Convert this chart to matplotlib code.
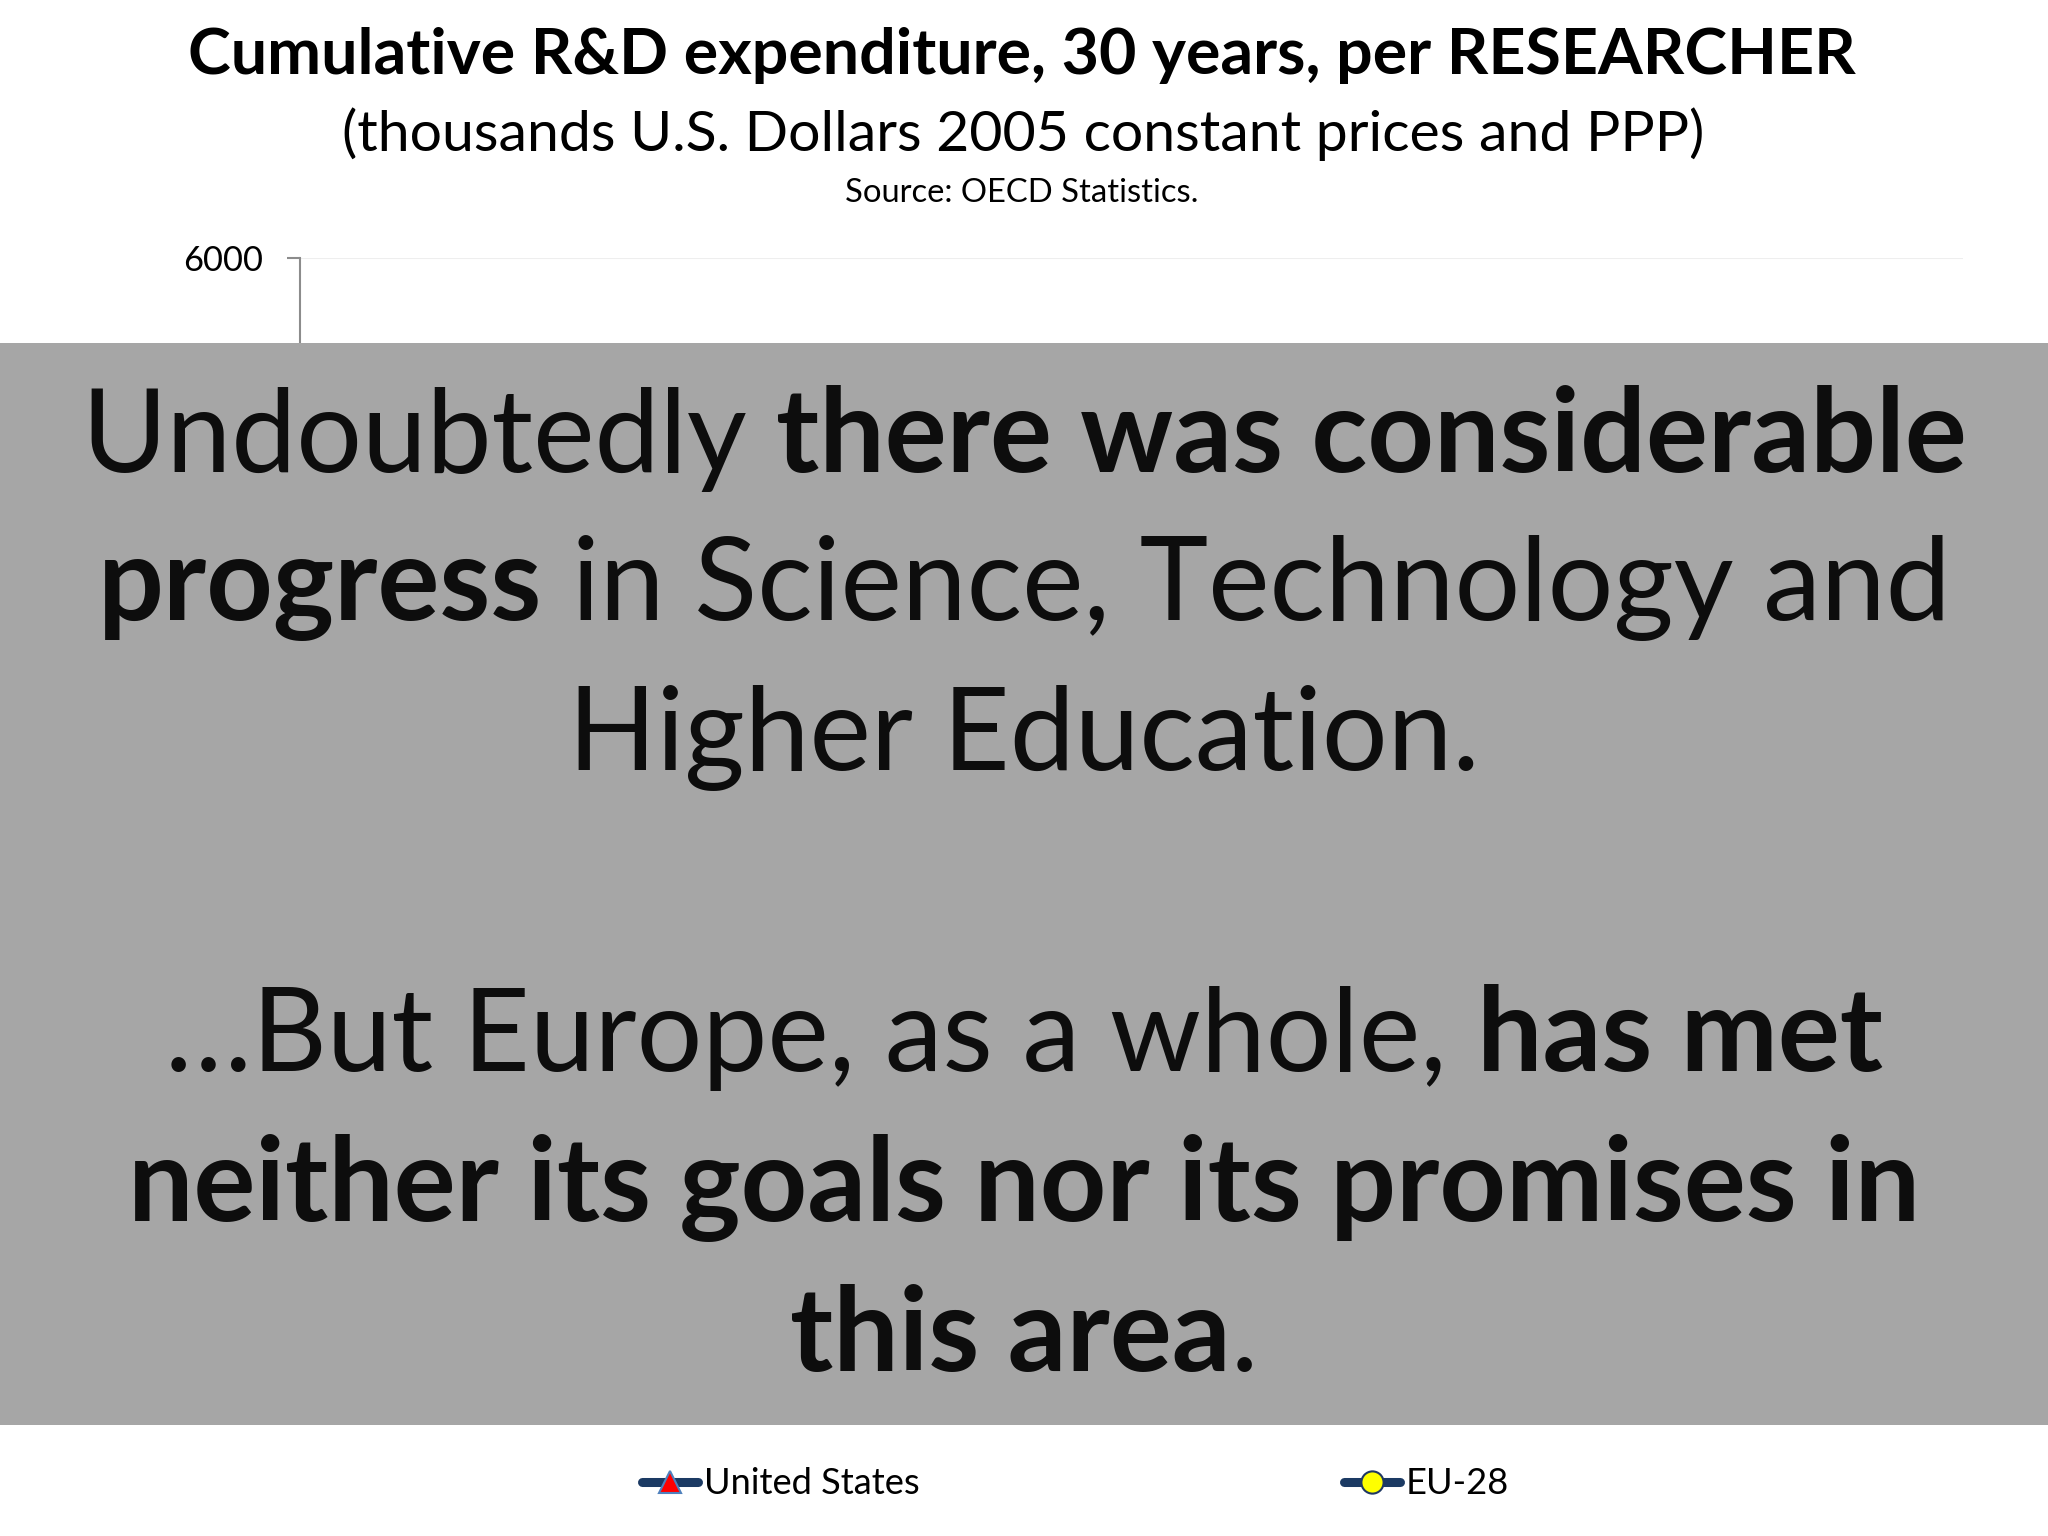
import matplotlib
matplotlib.use('Agg')
import matplotlib.pyplot as plt
from matplotlib.patches import Rectangle

# canvas in pixels
W, H, DPI = 2048, 1536, 100
FONT = 'Lato'

title = 'Cumulative R&D expenditure, 30 years, per RESEARCHER'
subtitle = '(thousands U.S. Dollars 2005 constant prices and PPP)'
source = 'Source: OECD Statistics.'

y_ticks = [0, 1000, 2000, 3000, 4000, 5000, 6000]
series_names = ['United States', 'EU-28']
series_markers = ['^', 'o']
series_face = ['#ff0000', '#ffff00']
series_edge = ['#4f81bd', '#1f3864']
line_color = '#1b3a63'

# overlay text: list of lines, each a list of (text, bold)
overlay_lines = [
    [('Undoubtedly', False), ('there was considerable', True)],
    [('progress', True), ('in Science, Technology and', False)],
    [('Higher Education.', False)],
    [],
    [('\u2026But Europe, as a whole,', False), ('has met', True)],
    [('neither its goals nor its promises in', True)],
    [('this area', True), ('.', False)],
]
overlay_baselines = [472, 620, 770, None, 1071, 1221, 1371]


def fx(x):
    return x / W


def fy(y):
    return 1 - y / H


fig = plt.figure(figsize=(W / DPI, H / DPI), dpi=DPI)
fig.patch.set_facecolor('white')
renderer = fig.canvas.get_renderer()


def text_width(s, size, bold=False):
    t = fig.text(0, 0, s, fontsize=size, fontweight='bold' if bold else 'normal', family=FONT)
    w = t.get_window_extent(renderer).width
    t.remove()
    return w


def fit_size(s, target, bold=False):
    return 100 * target / text_width(s, 100, bold)


# headings
fig.text(fx(1022), fy(74), title, ha='center', va='baseline', family=FONT,
         fontweight='bold', fontsize=fit_size(title, 1666, True), color='black')
fig.text(fx(1023), fy(151), subtitle, ha='center', va='baseline', family=FONT,
         fontsize=fit_size(subtitle, 1362), color='black')
fig.text(fx(1022), fy(202), source, ha='center', va='baseline', family=FONT,
         fontsize=fit_size(source, 353), color='black')

# chart area (mostly hidden under the grey box)
ax = fig.add_axes([fx(300), fy(1300), fx(1963) - fx(300), fy(258) - fy(1300)])
ax.set_ylim(0, 6000)
ax.set_yticks(y_ticks)
ax.set_xticks([])
ax.grid(axis='y', color='#eeeeee', linewidth=1.5)
ax.set_axisbelow(True)
for side in ['top', 'right', 'bottom']:
    ax.spines[side].set_visible(False)
ax.spines['left'].set_color('#8c8c8c')
ax.spines['left'].set_linewidth(1.5)
tick_fs = fit_size('6000', 80)
ax.tick_params(axis='y', length=9.5, width=1.5, color='#8c8c8c', pad=17,
               labelsize=tick_fs)
for val, lab in zip(y_ticks, ax.get_yticklabels()):
    lab.set_family(FONT)
    # labels below 6000 sit under the grey box
    lab.set_visible(val == 6000)

handles = []
for name, mk, fc, ec in zip(series_names, series_markers, series_face, series_edge):
    h, = ax.plot([], [], color=line_color, linewidth=6.5, solid_capstyle='round',
                 marker=mk, markersize=16, markerfacecolor=fc, markeredgecolor=ec,
                 markeredgewidth=1.5, label=name)
    handles.append(h)

# grey overlay box
fig.patches.append(Rectangle((0, fy(1425)), 1, fy(343) - fy(1425), transform=fig.transFigure,
                             facecolor='#a6a6a6', edgecolor='none', zorder=5))

ov_fs = 100 * 1885 / (text_width('Undoubtedly', 100) + text_width('there was considerable', 100, True)
                      + (text_width('a a', 100) - text_width('aa', 100)))
space = text_width('a a', ov_fs) - text_width('aa', ov_fs)
for segs, base in zip(overlay_lines, overlay_baselines):
    if not segs:
        continue
    widths = [text_width(s, ov_fs, b) for s, b in segs]
    total = sum(widths) + space * (len(segs) - 1)
    # no space before the final period
    if segs[-1][0] == '.':
        total -= space
    x = W / 2 - total / 2
    for i, ((s, b), w) in enumerate(zip(segs, widths)):
        fig.text(fx(x), fy(base), s, ha='left', va='baseline', family=FONT,
                 fontweight='bold' if b else 'normal', fontsize=ov_fs,
                 color='#0d0d0d', zorder=6)
        x += w
        if i + 1 < len(segs) and segs[i + 1][0] != '.':
            x += space

# legend below the box
leg_fs = fit_size('United States', 216)
em = leg_fs * DPI / 72
us_w = text_width('United States', leg_fs)
fig.legend(handles=handles, loc='center left', bbox_to_anchor=(fx(642), fy(1484)),
           ncol=2, frameon=False, fontsize=leg_fs, prop={'family': FONT, 'size': leg_fs},
           handlelength=56 / em, handletextpad=6 / em, columnspacing=(1345 - 642 - 63 - us_w) / em,
           borderpad=0, borderaxespad=0)

fig.savefig('out.png', dpi=DPI, facecolor='white')
